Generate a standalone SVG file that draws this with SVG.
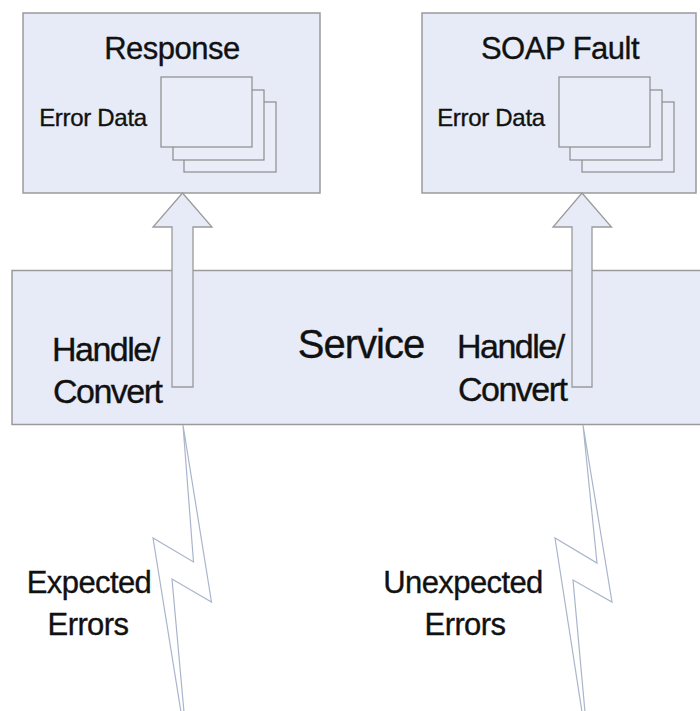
<svg xmlns="http://www.w3.org/2000/svg" width="700" height="711" viewBox="0 0 700 711">
  <style>
    .box { fill: #e7ebf7; stroke: #9a9a9a; stroke-width: 1.5; }
    .page { fill: #e9edf8; stroke: #8c8c8c; stroke-width: 1.2; }
    .arrow { fill: #e7ebf7; stroke: #9a9a9a; stroke-width: 1.3; }
    .bolt { fill: #ffffff; stroke: #aab5cc; stroke-width: 1.2; stroke-linejoin: miter; }
    text { font-family: "Liberation Sans", Arial, sans-serif; fill: #111; stroke: #111; stroke-width: 0.35; }
    .title { font-size: 31px; text-anchor: middle; letter-spacing: -0.5px; }
    .small { font-size: 24px; text-anchor: middle; letter-spacing: -0.3px; }
    .big { font-size: 40px; text-anchor: middle; letter-spacing: -1px; }
    .lbl { font-size: 34px; letter-spacing: -1.5px; }
    .err { font-size: 31px; text-anchor: middle; letter-spacing: -0.6px; }
  </style>

  <rect width="700" height="711" fill="#ffffff"/>

  <!-- Service layer spanning the width -->
  <g id="service">
    <rect class="box" x="12" y="270.5" width="700" height="154"/>
    <text class="big" x="361" y="358">Service</text>
  </g>

  <!-- Response message -->
  <g id="response">
    <rect class="box" x="23" y="13" width="297" height="180"/>
    <text class="title" x="172" y="59">Response</text>
    <text class="small" x="93" y="126">Error Data</text>
    <rect class="page" x="184" y="102" width="92" height="70"/>
    <rect class="page" x="173" y="90" width="91" height="70"/>
    <rect class="page" x="161" y="77" width="91" height="70"/>
  </g>

  <!-- SOAP Fault message -->
  <g id="soap-fault">
    <rect class="box" x="422" y="13" width="274" height="180"/>
    <text class="title" x="560" y="59">SOAP Fault</text>
    <text class="small" x="491" y="126">Error Data</text>
    <rect class="page" x="582" y="102" width="92" height="70"/>
    <rect class="page" x="570" y="90" width="92" height="70"/>
    <rect class="page" x="559" y="77" width="91" height="70"/>
  </g>

  <!-- Conversion arrows and incoming error bolts -->
  <g id="connectors">
    <polygon class="arrow" points="182.5,193 212,227 193,227 193,387 172,387 172,227 153,227"/>
    <polygon class="arrow" points="582,193 611.5,227 592,227 592,387 572,387 572,227 553,227"/>
    <polygon class="bolt" points="183,425 211.5,602 172,579 184,712 181,712 153,538 193.5,562"/>
    <polygon class="bolt" points="583,425 612,602 573,580 585,712 582,712 555,538 597,563"/>
  </g>

  <g id="handle-left">
    <text class="lbl" x="52" y="361">Handle/</text>
    <text class="lbl" x="53" y="403">Convert</text>
  </g>

  <g id="handle-right">
    <text class="lbl" x="457" y="358">Handle/</text>
    <text class="lbl" x="458" y="401">Convert</text>
  </g>

  <g id="expected-errors">
    <text class="err" x="89" y="593">Expected</text>
    <text class="err" x="88" y="635">Errors</text>
  </g>

  <g id="unexpected-errors">
    <text class="err" x="463" y="593">Unexpected</text>
    <text class="err" x="465" y="635">Errors</text>
  </g>
</svg>
